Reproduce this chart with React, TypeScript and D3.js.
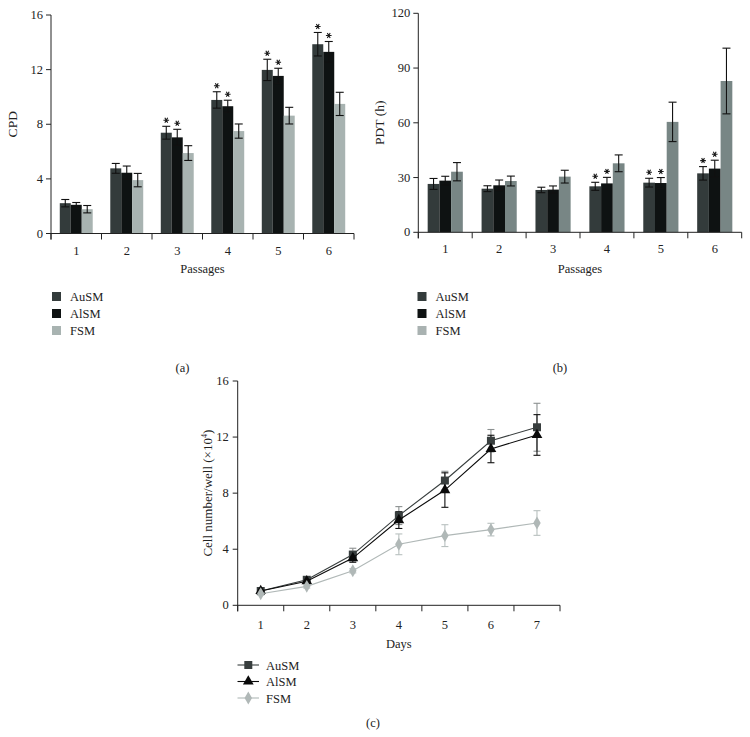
import React from "react";
import * as d3 from "d3";

const passages = ["1", "2", "3", "4", "5", "6"];
const days = ["1", "2", "3", "4", "5", "6", "7"];
const seriesNames = ["AuSM", "AlSM", "FSM"];

const cpdAuSM = [2.22, 4.77, 7.38, 9.78, 11.98, 13.86];
const cpdAuSMErr = [0.27, 0.36, 0.47, 0.6, 0.78, 0.86];
const cpdAlSM = [2.1, 4.45, 7.04, 9.32, 11.54, 13.3];
const cpdAlSMErr = [0.17, 0.49, 0.59, 0.44, 0.56, 0.76];
const cpdFSM = [1.78, 3.91, 5.89, 7.5, 8.63, 9.49];
const cpdFSMErr = [0.27, 0.49, 0.54, 0.52, 0.61, 0.85];
const cpdStars = [false, false, true, true, true, true];
const cpdTicks = [0, 4, 8, 12, 16];

const pdtAuSM = [26.5, 23.9, 23.2, 25.2, 27.2, 32.3];
const pdtAuSMErr = [3.0, 1.6, 1.5, 2.2, 2.4, 3.7];
const pdtAlSM = [28.3, 25.75, 23.4, 26.8, 27.0, 34.9];
const pdtAlSMErr = [2.4, 2.9, 2.0, 3.3, 3.0, 4.6];
const pdtFSM = [33.2, 28.1, 30.5, 37.8, 60.5, 82.9];
const pdtFSMErr = [5.0, 2.7, 3.5, 4.6, 10.8, 18.0];
const pdtStars = [false, false, false, true, true, true];
const pdtTicks = [0, 30, 60, 90, 120];

const cellAuSM = [1.02, 1.82, 3.62, 6.4, 8.9, 11.74, 12.7];
const cellAuSMErr = [0.1, 0.15, 0.45, 0.64, 0.66, 0.8, 1.71];
const cellAlSM = [1.02, 1.72, 3.37, 6.08, 8.22, 11.15, 12.15];
const cellAlSMErr = [0.1, 0.12, 0.3, 0.6, 1.23, 0.98, 1.45];
const cellFSM = [0.82, 1.35, 2.46, 4.35, 4.97, 5.4, 5.87];
const cellFSMErr = [0.1, 0.12, 0.15, 0.74, 0.78, 0.45, 0.88];
const cellTicks = [0, 4, 8, 12, 16];

const FONT = "'Liberation Serif', 'DejaVu Serif', serif";
const TXT = "#222";

const starPath = d3.symbol().type(d3.symbolAsterisk).size(22)() as string;

type BarProps = {
  x0: number; x1: number; y0: number; y1: number; max: number; ticks: number[];
  vals: number[][]; errs: number[][]; stars: boolean[]; colors: string[];
  yLabel: string; legendColors: string[]; legendX: number; caption: string;
};

function BarPanel(p: BarProps) {
  const x = d3.scaleBand().domain(passages).range([p.x0, p.x1]).padding(0);
  const inner = d3.scaleBand().domain(seriesNames).range([0, x.bandwidth()]).paddingInner(0).paddingOuter(0.8);
  const y = d3.scaleLinear().domain([0, p.max]).range([p.y0, p.y1]);
  const bw = inner.bandwidth();
  const boundaries = [...passages.map((d) => x(d) as number), p.x1];
  const midX = (p.x0 + p.x1) / 2;
  return (
    <g fontFamily={FONT} fill={TXT}>
      {seriesNames.map((s, si) =>
        passages.map((c, ci) => {
          const v = p.vals[si][ci];
          const e = p.errs[si][ci];
          const bx = (x(c) as number) + (inner(s) as number);
          const cx = bx + bw / 2;
          return (
            <g key={s + c}>
              <rect x={bx} y={y(v)} width={bw} height={y(0) - y(v)} fill={p.colors[si]} />
              <line x1={cx} x2={cx} y1={y(v - e)} y2={y(v + e)} stroke="#111" strokeWidth={1.1} />
              <line x1={cx - 4} x2={cx + 4} y1={y(v + e)} y2={y(v + e)} stroke="#111" strokeWidth={1.1} />
              <line x1={cx - 4} x2={cx + 4} y1={y(v - e)} y2={y(v - e)} stroke="#111" strokeWidth={1.1} />
              {si < 2 && p.stars[ci] ? (
                <path d={starPath} transform={`translate(${cx},${y(v + e) - 6}) rotate(90)`} fill="none" stroke="#1a1a1a" strokeWidth={1.1} />
              ) : null}
            </g>
          );
        })
      )}
      <line x1={p.x0} x2={p.x0} y1={p.y1} y2={p.y0 + 6} stroke="#222" strokeWidth={1} />
      <line x1={p.x0} x2={p.x1} y1={p.y0} y2={p.y0} stroke="#222" strokeWidth={1} />
      {p.ticks.map((t) => (
        <g key={t}>
          <line x1={p.x0 - 5} x2={p.x0} y1={y(t)} y2={y(t)} stroke="#222" />
          <text x={p.x0 - 8} y={y(t) + 4} textAnchor="end" fontSize={12.5}>{t}</text>
        </g>
      ))}
      {boundaries.map((b, i) => (
        <line key={i} x1={b} x2={b} y1={p.y0} y2={p.y0 + 6} stroke="#222" />
      ))}
      {passages.map((c) => (
        <text key={c} x={(x(c) as number) + x.bandwidth() / 2} y={p.y0 + 21} textAnchor="middle" fontSize={12.5}>{c}</text>
      ))}
      <text transform={`translate(${p.x0 - 34},${(p.y0 + p.y1) / 2}) rotate(-90)`} textAnchor="middle" fontSize={13.5}>{p.yLabel}</text>
      <text x={midX} y={273} textAnchor="middle" fontSize={12.5}>Passages</text>
      {seriesNames.map((s, i) => (
        <g key={s}>
          <rect x={p.legendX} y={292 + i * 17} width={9} height={9} fill={p.legendColors[i]} />
          <text x={p.legendX + 18} y={301 + i * 17} fontSize={12.5}>{s}</text>
        </g>
      ))}
      <text x={midX - 20} y={372} textAnchor="middle" fontSize={12.5}>{p.caption}</text>
    </g>
  );
}

function LinePanel() {
  const x0 = 237.7, x1 = 560, y0 = 605.3, y1 = 381;
  const x = d3.scaleBand().domain(days).range([x0, x1]).padding(0);
  const y = d3.scaleLinear().domain([0, 16]).range([y0, y1]);
  const cxOf = (d: string) => (x(d) as number) + x.bandwidth() / 2;
  const series = [
    { name: "AuSM", vals: cellAuSM, errs: cellAuSMErr, color: "#383e3e", err: "#8c9191", shape: "square" },
    { name: "AlSM", vals: cellAlSM, errs: cellAlSMErr, color: "#0a0a0a", err: "#111", shape: "triangle" },
    { name: "FSM", vals: cellFSM, errs: cellFSMErr, color: "#b0b8b7", err: "#b8c0bf", shape: "diamond" },
  ];
  const sym = (shape: string) =>
    d3.symbol().type(shape === "square" ? d3.symbolSquare : shape === "triangle" ? d3.symbolTriangle : d3.symbolDiamond)
      .size(shape === "square" ? 64 : shape === "triangle" ? 50 : 48)() as string;
  const boundaries = [...days.map((d) => x(d) as number), x1];
  return (
    <g fontFamily={FONT} fill={TXT}>
      {series.map((s) => (
        <g key={s.name}>
          {days.map((d, i) => {
            const cx = cxOf(d);
            const v = s.vals[i], e = s.errs[i];
            return (
              <g key={d} stroke={s.err} strokeWidth={1.1}>
                <line x1={cx} x2={cx} y1={y(v - e)} y2={y(v + e)} />
                <line x1={cx - 3.5} x2={cx + 3.5} y1={y(v + e)} y2={y(v + e)} />
                <line x1={cx - 3.5} x2={cx + 3.5} y1={y(v - e)} y2={y(v - e)} />
              </g>
            );
          })}
        </g>
      ))}
      {series.map((s) => {
        const line = d3.line<number>().x((_, i) => cxOf(days[i])).y((v) => y(v));
        return (
          <g key={s.name}>
            <path d={line(s.vals) as string} fill="none" stroke={s.color} strokeWidth={1.1} />
            {days.map((d, i) => (
              <path key={d} d={sym(s.shape)} transform={`translate(${cxOf(d)},${y(s.vals[i])})`} fill={s.color} />
            ))}
          </g>
        );
      })}
      <line x1={x0} x2={x0} y1={y1} y2={y0 + 6} stroke="#222" />
      <line x1={x0} x2={x1} y1={y0} y2={y0} stroke="#222" />
      {cellTicks.map((t) => (
        <g key={t}>
          <line x1={x0 - 5} x2={x0} y1={y(t)} y2={y(t)} stroke="#222" />
          <text x={x0 - 9} y={y(t) + 4} textAnchor="end" fontSize={12.5}>{t}</text>
        </g>
      ))}
      {boundaries.map((b, i) => (
        <line key={i} x1={b} x2={b} y1={y0} y2={y0 + 6} stroke="#222" />
      ))}
      {days.map((d) => (
        <text key={d} x={cxOf(d)} y={y0 + 24} textAnchor="middle" fontSize={12.5}>{d}</text>
      ))}
      <text x={(x0 + x1) / 2} y={648} textAnchor="middle" fontSize={12.5}>Days</text>
      <text transform={`translate(${x0 - 26},${(y0 + y1) / 2}) rotate(-90)`} textAnchor="middle" fontSize={13}>
        Cell number/well (×10<tspan dy={-5} fontSize={8}>4</tspan><tspan dy={5}>)</tspan>
      </text>
      {series.map((s, i) => (
        <g key={s.name}>
          <line x1={237.5} x2={259} y1={665 + i * 16.5} y2={665 + i * 16.5} stroke={s.color} strokeWidth={1.1} />
          <path d={sym(s.shape)} transform={`translate(248.3,${665 + i * 16.5})`} fill={s.color} />
          <text x={266} y={669.5 + i * 16.5} fontSize={12.5}>{s.name}</text>
        </g>
      ))}
      <text x={373} y={727} textAnchor="middle" fontSize={12.5}>(c)</text>
    </g>
  );
}

export default function App() {
  return (
    <svg width={750} height={737} style={{ position: "absolute", left: 0, top: 0, background: "#fff" }}>
      <rect width={750} height={737} fill="#fff" />
      <BarPanel x0={51} x1={354} y0={233.5} y1={15} max={16} ticks={cpdTicks}
        vals={[cpdAuSM, cpdAlSM, cpdFSM]} errs={[cpdAuSMErr, cpdAlSMErr, cpdFSMErr]} stars={cpdStars}
        colors={["#333b3b", "#0e1212", "#a8b3b1"]} yLabel="CPD"
        legendColors={["#333b3b", "#0e1212", "#a8b3b1"]} legendX={52} caption="(a)" />
      <BarPanel x0={418.3} x1={741.7} y0={232.3} y1={13.3} max={120} ticks={pdtTicks}
        vals={[pdtAuSM, pdtAlSM, pdtFSM]} errs={[pdtAuSMErr, pdtAlSMErr, pdtFSMErr]} stars={pdtStars}
        colors={["#333b3b", "#0e1212", "#788685"]} yLabel="PDT (h)"
        legendColors={["#333b3b", "#0e1212", "#a9b2b1"]} legendX={417.5} caption="(b)" />
      <LinePanel />
    </svg>
  );
}
